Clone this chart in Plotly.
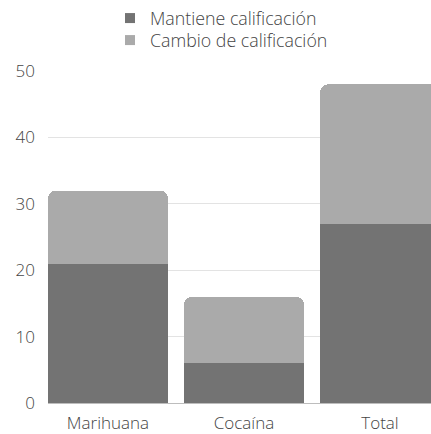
import plotly.graph_objects as go

categories = ["Marihuana", "Cocaína", "Total"]
mantiene = [21, 6, 27]
cambio = [11, 10, 21]
series_names = ["Mantiene calificación", "Cambio de calificación"]
colors = ["#737373", "#aaaaaa"]
y_ticks = [0, 10, 20, 30, 40, 50]

TXT = "#444444"
fig = go.Figure()
for vals, name, col in zip([mantiene, cambio], series_names, colors):
    fig.add_trace(go.Bar(x=categories, y=vals, name=name, showlegend=False,
                         marker=dict(color=col, line=dict(width=0)), width=0.882))
legend_ids = ["legend", "legend2"]
for name, col, lg in zip(series_names, colors, legend_ids):
    fig.add_trace(go.Scatter(x=[None], y=[None], mode="markers", name=name, legend=lg,
                             marker=dict(symbol="square", size=10, color=col)))

leg_common = dict(orientation="v", x=(110 - 48) / 383, xanchor="left", xref="paper",
                  yanchor="top", yref="container",
                  font=dict(family="Open Sans", size=17.8, color=TXT, weight=300),
                  itemwidth=30, bgcolor="rgba(0,0,0,0)")

fig.update_layout(
    width=431, height=434,
    barmode="stack",
    barcornerradius=8,
    paper_bgcolor="white", plot_bgcolor="white",
    margin=dict(l=48, r=0, t=71, b=31),
    font=dict(family="Open Sans", size=17, color=TXT, weight=300),
    showlegend=True,
    legend=dict(**leg_common, y=1 - 0 / 434),
    legend2=dict(**leg_common, y=1 - 22 / 434),
    xaxis=dict(range=[-0.441, 2.375], showgrid=False, showline=False, ticks="",
               ticklabelstandoff=8, automargin=False,
               tickfont=dict(family="Open Sans", size=17, color=TXT, weight=300),
               fixedrange=True),
    yaxis=dict(range=[0, 50], tickvals=y_ticks, showgrid=True, gridcolor="#e3e3e3",
               gridwidth=1, zeroline=True, zerolinecolor="#bdbdbd", zerolinewidth=1,
               showline=False, ticks="", ticklabelstandoff=12, automargin=False,
               tickfont=dict(family="Open Sans", size=17, color=TXT, weight=300)),
)
fig.write_html("out.html")
